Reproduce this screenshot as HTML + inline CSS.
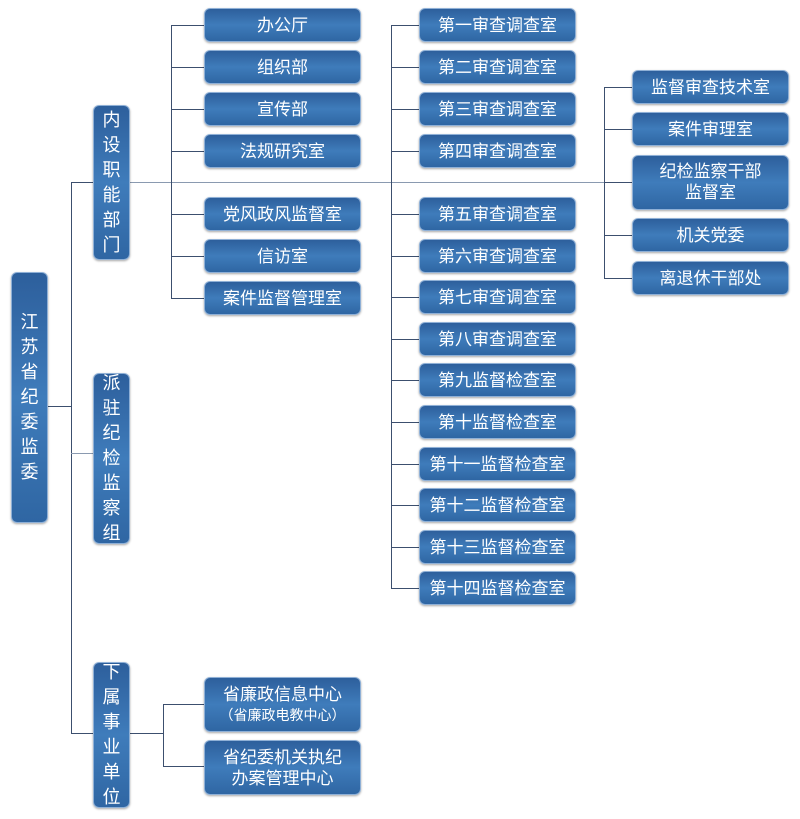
<!DOCTYPE html>
<html><head><meta charset="utf-8"><style>
body{margin:0;width:800px;height:819px;background:#fff;position:relative;overflow:hidden;font-family:"Liberation Sans","Noto Sans CJK SC",sans-serif}
.b{position:absolute;box-sizing:border-box;border-radius:6px;background:linear-gradient(#2d5f9c,#3f7cbb 50%,#2f66a3);border:1px solid #8fb0d6;box-shadow:0 1px 2px rgba(0,0,0,.35);color:#fff;display:flex;align-items:center;justify-content:center;text-align:center;font-size:17px;line-height:21px}
.v{line-height:25px;font-size:18px}
.l{position:absolute;background:#3c4f6e}
</style></head><body>
<!-- lines -->
<div class="l" style="left:47px;top:406px;width:24px;height:1px"></div>
<div class="l" style="left:71px;top:182px;width:1px;height:552px"></div>
<div class="l" style="left:71px;top:182px;width:23px;height:1px"></div>
<div class="l" style="left:71px;top:453px;width:23px;height:1px;background:#8a9ab0"></div>
<div class="l" style="left:71px;top:733px;width:23px;height:1px"></div>
<div class="l" style="left:130px;top:182px;width:502px;height:1px;background:#8a9ab0"></div>
<div class="l" style="left:171px;top:25px;width:1px;height:273px"></div>
<div class="l" style="left:391px;top:25px;width:1px;height:564px"></div>
<div class="l" style="left:604px;top:87px;width:1px;height:191px"></div>
<div class="l" style="left:130px;top:733px;width:33px;height:1px"></div>
<div class="l" style="left:163px;top:704px;width:1px;height:63px"></div>
<div class="l" style="left:163px;top:704px;width:42px;height:1px"></div>
<div class="l" style="left:163px;top:766px;width:42px;height:1px"></div>
<div id="h"></div>
<!-- boxes -->
<div class="b v" style="left:11px;top:272px;width:37px;height:251px">江<br>苏<br>省<br>纪<br>委<br>监<br>委</div>
<div class="b v" style="left:93px;top:105px;width:37px;height:155px">内<br>设<br>职<br>能<br>部<br>门</div>
<div class="b v" style="left:93px;top:373px;width:37px;height:171px">派<br>驻<br>纪<br>检<br>监<br>察<br>组</div>
<div class="b v" style="left:93px;top:662px;width:37px;height:146px">下<br>属<br>事<br>业<br>单<br>位</div>
<div class="b" style="left:204px;top:677px;width:157px;height:55px;flex-direction:column"><span>省廉政信息中心</span><span style="font-size:14px">（省廉政电教中心）</span></div>
<div class="b" style="left:204px;top:740px;width:157px;height:55px">省纪委机关执纪<br>办案管理中心</div>
<script>
var c3=[["办公厅",25],["组织部",67],["宣传部",109],["法规研究室",151],["党风政风监督室",214],["信访室",256],["案件监督管理室",298]];
var c4=["第一审查调查室","第二审查调查室","第三审查调查室","第四审查调查室","第五审查调查室","第六审查调查室","第七审查调查室","第八审查调查室","第九监督检查室","第十监督检查室","第十一监督检查室","第十二监督检查室","第十三监督检查室","第十四监督检查室"];
var c5=[["监督审查技术室",87,34],["案件审理室",129,34],["纪检监察干部<br>监督室",182,55],["机关党委",235,34],["离退休干部处",278,34]];
var h="";
function box(x,y,w,hh,t){h+='<div class="b" style="left:'+x+'px;top:'+(y-hh/2)+'px;width:'+w+'px;height:'+hh+'px">'+t+'</div>';}
function ln(x,y,w){h+='<div class="l" style="left:'+x+'px;top:'+y+'px;width:'+w+'px;height:1px"></div>';}
c3.forEach(function(a){ln(171,a[1],34);box(204,a[1],157,34,a[0]);});
c4.forEach(function(t,i){var y=i<4?25+i*42:214+(i-4)*41.6;y=Math.round(y);ln(391,y,28);box(419,y,157,34,t);});
c5.forEach(function(a){ln(604,a[1],28);box(632,a[1],157,a[2],a[0]);});
document.getElementById("h").outerHTML=h;
</script>
</body></html>
